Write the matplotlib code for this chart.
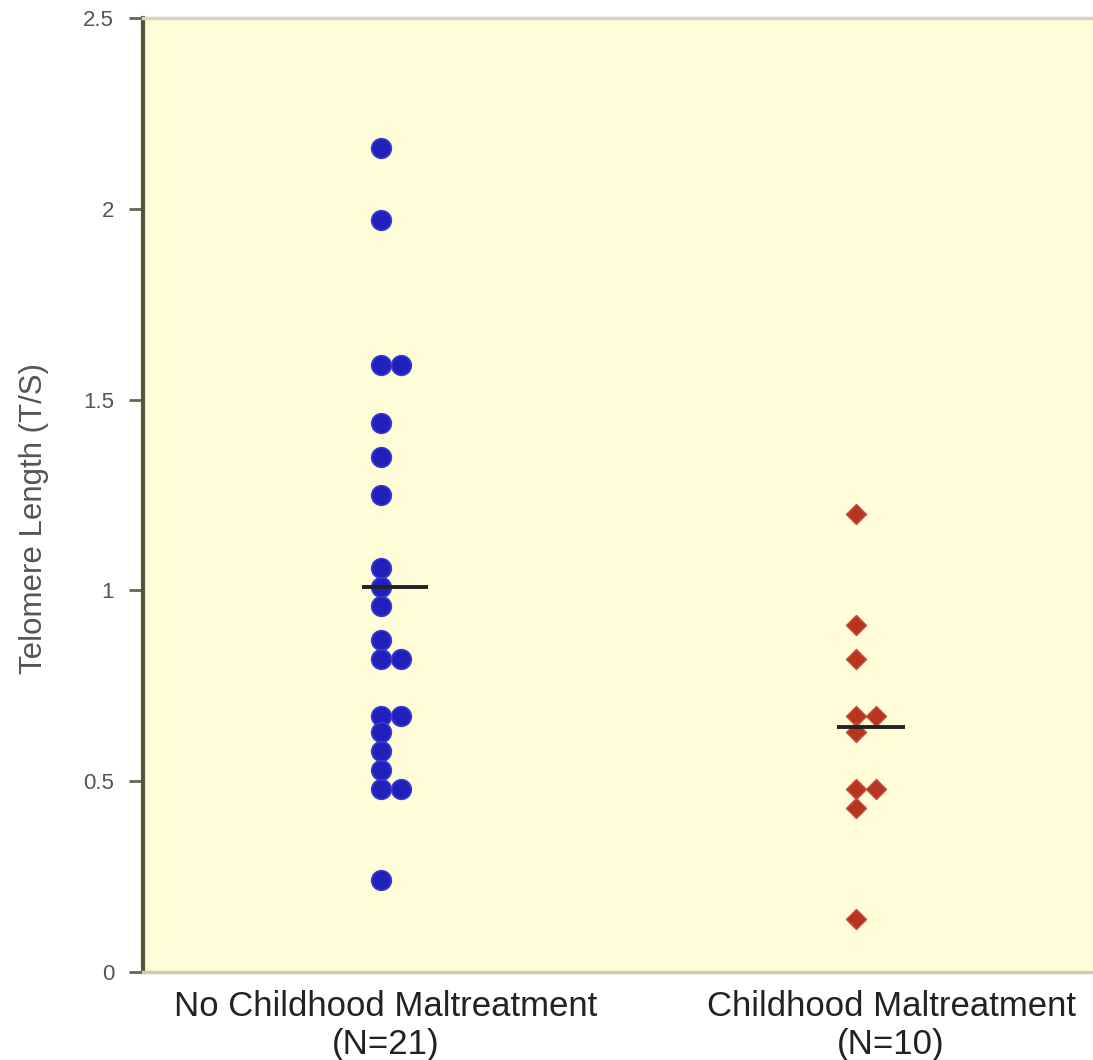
import numpy as np
import matplotlib
matplotlib.use("Agg")
import matplotlib.pyplot as plt

# telomere length (T/S)
no_maltreat = [2.16, 1.97, 1.59, 1.59, 1.44, 1.35, 1.25, 1.06, 1.01, 0.96, 0.87,
               0.82, 0.82, 0.67, 0.67, 0.63, 0.58, 0.53, 0.48, 0.48, 0.24]
maltreat = [1.20, 0.91, 0.82, 0.67, 0.67, 0.63, 0.48, 0.48, 0.43, 0.14]
group_labels = ["No Childhood Maltreatment\n(N=21)", "Childhood Maltreatment\n(N=10)"]
yticks = [0, 0.5, 1, 1.5, 2, 2.5]
ytick_labels = ["0", "0.5", "1", "1.5", "2", "2.5"]

plt.rcParams['font.family'] = ['Liberation Sans', 'DejaVu Sans']

fig = plt.figure(figsize=(10.93, 10.6), dpi=100)
ax = fig.add_axes([0.131, 0.083, 0.869, 0.9])
ax.set_facecolor('#fffdd8')

def side_by_side(vals, pos, step=0.085):
    # repeated values sit next to each other, like the original dot plot
    xs = []
    seen = {}
    for v in vals:
        k = seen.get(v, 0)
        xs.append(pos + k * step)
        seen[v] = k + 1
    return xs

pos1, pos2 = 1.0, 3.0
ax.scatter(side_by_side(no_maltreat, pos1), no_maltreat, s=200, marker='o',
           color='#2020bc', edgecolor='#3a3ad0', linewidth=1.2, zorder=3)
ax.scatter(side_by_side(maltreat, pos2), maltreat, s=105, marker='D',
           color='#b8341f', edgecolor='#c85040', linewidth=1.0, zorder=3)

# mean lines
ax.hlines(np.mean(no_maltreat), pos1 - 0.08, pos1 + 0.2, color='#222222', lw=2.8, zorder=4)
ax.hlines(np.mean(maltreat), pos2 - 0.08, pos2 + 0.21, color='#222222', lw=2.8, zorder=4)

ax.set_xlim(0, 4)
ax.set_ylim(0, 2.5)
ax.set_yticks(yticks)
ax.set_yticklabels(ytick_labels, fontsize=16, color='#555555')
ax.set_xticks([1.02, 3.15])
ax.set_xticklabels(group_labels, fontsize=25, color='#222222', linespacing=1.2)
ax.tick_params(axis='x', length=0, pad=13)
ax.tick_params(axis='y', length=10, width=2, color='#66664f', pad=11, direction='out')

ax.set_ylabel("Telomere Length (T/S)", fontsize=22.5, color='#555555')
ax.yaxis.set_label_coords(-0.099, 0.475)

ax.spines['left'].set_color('#55553f')
ax.spines['left'].set_linewidth(3)
ax.spines['bottom'].set_color('#cfcbb0')
ax.spines['bottom'].set_linewidth(2.5)
ax.spines['top'].set_color('#d8d6c0')
ax.spines['top'].set_linewidth(2.5)
ax.spines['right'].set_visible(False)

fig.savefig("out.png", dpi=100)
